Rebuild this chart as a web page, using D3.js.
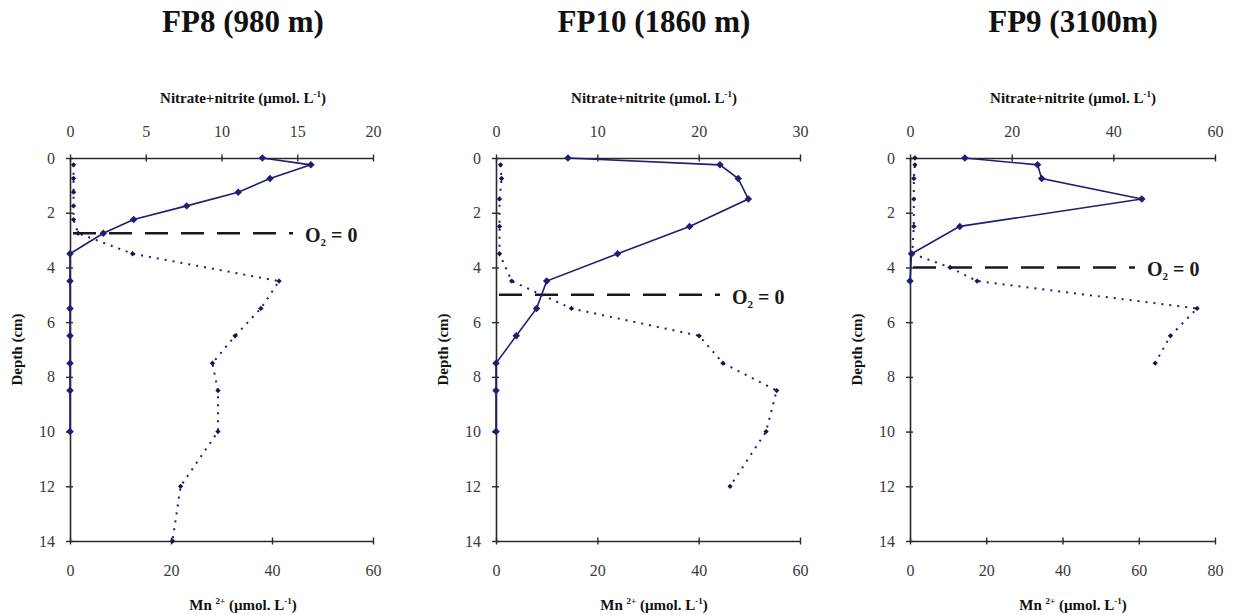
<!DOCTYPE html>
<html>
<head>
<meta charset="utf-8">
<script src="https://cdn.jsdelivr.net/npm/d3@7/dist/d3.min.js"></script>
<style>
  html, body { margin: 0; padding: 0; background: #fff; }
  svg { display: block; }
  svg text { font-family: "Liberation Serif", "Times New Roman", serif; }
</style>
</head>
<body>
<svg id="chart" width="1233" height="615"></svg>
<script>
// ---------- DATA ----------
const stations = ["FP8 (980 m)", "FP10 (1860 m)", "FP9 (3100m)"];

const fp8NitrateDepth = [0, 0.25, 0.75, 1.25, 1.75, 2.25, 2.75, 3.5, 4.5, 5.5, 6.5, 7.5, 8.5, 10];
const fp8Nitrate      = [12.7, 15.9, 13.2, 11.1, 7.7, 4.2, 2.2, 0, 0, 0, 0, 0, 0, 0];
const fp8MnDepth      = [0.25, 0.75, 1.25, 1.75, 2.25, 2.75, 3.5, 4.5, 5.5, 6.5, 7.5, 8.5, 10, 12, 14];
const fp8Mn           = [0.7, 0.7, 0.7, 0.7, 0.7, 1.6, 12.4, 41.4, 37.8, 32.7, 28.2, 29.3, 29.3, 21.9, 20.3];

const fp10NitrateDepth = [0, 0.25, 0.75, 1.5, 2.5, 3.5, 4.5, 5.5, 6.5, 7.5, 8.5, 10];
const fp10Nitrate      = [7.1, 22.1, 23.9, 24.9, 19.1, 12.0, 5.0, 4.0, 2.0, 0, 0, 0];
const fp10MnDepth      = [0.25, 0.75, 1.5, 2.5, 3.5, 4.5, 5.5, 6.5, 7.5, 8.5, 10, 12];
const fp10Mn           = [0.9, 1.1, 0.7, 0.7, 0.7, 3.1, 14.9, 40.1, 44.8, 55.4, 53.3, 46.2];

const fp9NitrateDepth = [0, 0.25, 0.75, 1.5, 2.5, 3.5, 4.5];
const fp9Nitrate      = [10.8, 25.1, 25.9, 45.6, 9.8, 0.3, 0];
const fp9MnDepth      = [0, 0.25, 0.75, 1.5, 2.5, 3.5, 4, 4.5, 5.5, 6.5, 7.5];
const fp9Mn           = [1.3, 1.3, 1.0, 1.0, 1.0, 0.6, 10.5, 17.6, 75.3, 68.3, 64.3];

const o2ZeroDepth = [2.75, 5.0, 4.0];

const nitrateMax   = [20, 30, 60];
const nitrateTicks = [[0, 5, 10, 15, 20], [0, 10, 20, 30], [0, 20, 40, 60]];
const mnMax        = [60, 60, 80];
const mnTicks      = [[0, 20, 40, 60], [0, 20, 40, 60], [0, 20, 40, 60, 80]];
const depthTicks   = [0, 2, 4, 6, 8, 10, 12, 14];

const nitrateDepths = [fp8NitrateDepth, fp10NitrateDepth, fp9NitrateDepth];
const nitrateVals   = [fp8Nitrate, fp10Nitrate, fp9Nitrate];
const mnDepths      = [fp8MnDepth, fp10MnDepth, fp9MnDepth];
const mnVals        = [fp8Mn, fp10Mn, fp9Mn];

// ---------- LAYOUT ----------
const panelLeft  = [70, 496, 910];
const panelRight = [373, 800, 1215];
const labelCx    = [243, 654, 1073];
const plotTop = 158, plotBottom = 541;

const navy = "#1e1e74";
const axisCol = "#2a2a2a";
const serif = "'Liberation Serif', 'Times New Roman', serif";

const svg = d3.select("#chart");
svg.append("rect").attr("width", 1233).attr("height", 615).attr("fill", "#fff");

const zip = (a, b) => a.map((d, i) => [d, b[i]]);

stations.forEach((name, i) => {
  const g = svg.append("g");
  const x1 = panelLeft[i], x2 = panelRight[i];
  const y = d3.scaleLinear().domain([0, 14]).range([plotTop, plotBottom]);
  const xN = d3.scaleLinear().domain([0, nitrateMax[i]]).range([x1, x2]);
  const xM = d3.scaleLinear().domain([0, mnMax[i]]).range([x1, x2]);

  // Station title
  g.append("text")
    .attr("x", labelCx[i]).attr("y", 32)
    .attr("text-anchor", "middle")
    .style("font-family", serif).attr("font-weight", "bold")
    .attr("font-size", 31).attr("fill", "#111")
    .text(name);

  // Top axis title
  const tt = g.append("text")
    .attr("x", labelCx[i]).attr("y", 103)
    .attr("text-anchor", "middle")
    .style("font-family", serif).attr("font-weight", "bold")
    .attr("font-size", 15).attr("fill", "#111");
  tt.append("tspan").text("Nitrate+nitrite (\u00B5mol. L");
  tt.append("tspan").attr("font-size", 9).attr("dy", -6).text("-1");
  tt.append("tspan").attr("dy", 6).text(")");

  // Bottom axis title
  const bt = g.append("text")
    .attr("x", labelCx[i]).attr("y", 610)
    .attr("text-anchor", "middle")
    .style("font-family", serif).attr("font-weight", "bold")
    .attr("font-size", 15).attr("fill", "#111");
  bt.append("tspan").text("Mn ");
  bt.append("tspan").attr("font-size", 9).attr("dy", -6).text("2+");
  bt.append("tspan").attr("dy", 6).text(" (\u00B5mol. L");
  bt.append("tspan").attr("font-size", 9).attr("dy", -6).text("-1");
  bt.append("tspan").attr("dy", 6).text(")");

  // Depth label
  g.append("text")
    .attr("transform", `translate(${x1 - 48},${(plotTop + plotBottom) / 2}) rotate(-90)`)
    .attr("text-anchor", "middle")
    .style("font-family", serif).attr("font-weight", "bold")
    .attr("font-size", 15).attr("fill", "#111")
    .text("Depth (cm)");

  // Axes
  const styleAxis = (sel, orient) => {
    sel.attr("font-family", null);
    sel.select(".domain").attr("stroke", axisCol).attr("stroke-width", 1.6);
    sel.selectAll(".tick line").attr("stroke", axisCol).attr("stroke-width", 1.4);
    if (orient === "x") sel.selectAll(".tick line").attr("y1", -3.5).attr("y2", 3.5);
    else sel.selectAll(".tick line").attr("x1", -4).attr("x2", 3);
    sel.selectAll(".tick text")
      .style("font-family", serif).attr("font-size", 16).attr("fill", "#3a3a3a");
  };

  const topAx = g.append("g").attr("transform", `translate(0,${plotTop})`)
    .call(d3.axisTop(xN).tickValues(nitrateTicks[i]).tickSize(3.5).tickSizeOuter(0).tickPadding(18));
  styleAxis(topAx, "x");

  const botAx = g.append("g").attr("transform", `translate(0,${plotBottom})`)
    .call(d3.axisBottom(xM).tickValues(mnTicks[i]).tickSize(3.5).tickSizeOuter(0).tickPadding(20));
  styleAxis(botAx, "x");
  botAx.selectAll(".tick text").attr("dy", "0.71em");

  const leftAx = g.append("g").attr("transform", `translate(${x1},0)`)
    .call(d3.axisLeft(y).tickValues(depthTicks).tickSize(4).tickSizeOuter(0).tickPadding(11));
  styleAxis(leftAx, "y");

  // O2 = 0 line
  const oy = y(o2ZeroDepth[i]);
  const labX = x2 - 68;
  g.append("line")
    .attr("x1", x1 + 3).attr("x2", labX - 12)
    .attr("y1", oy).attr("y2", oy)
    .attr("stroke", "#1a1a1a").attr("stroke-width", 2.6)
    .attr("stroke-dasharray", "23,13");
  const ot = g.append("text")
    .attr("x", labX).attr("y", oy + 9)
    .style("font-family", serif).attr("font-weight", "bold")
    .attr("font-size", 20).attr("fill", "#1a1a1a");
  ot.append("tspan").text("O");
  ot.append("tspan").attr("font-size", 11).attr("dy", 4).text("2");
  ot.append("tspan").attr("dy", -4).text(" = 0");

  // Mn profile (dotted)
  const mnData = zip(mnDepths[i], mnVals[i]);
  g.append("path")
    .datum(mnData)
    .attr("fill", "none").attr("stroke", navy).attr("stroke-width", 2)
    .attr("stroke-dasharray", "2,6")
    .attr("d", d3.line().x(d => xM(d[1])).y(d => y(d[0])));
  g.selectAll(".mn").data(mnData).enter().append("path")
    .attr("transform", d => `translate(${xM(d[1])},${y(d[0])}) rotate(45)`)
    .attr("d", d3.symbol().type(d3.symbolSquare).size(14))
    .attr("fill", "#15154f");

  // Nitrate profile (solid)
  const nData = zip(nitrateDepths[i], nitrateVals[i]);
  g.append("path")
    .datum(nData)
    .attr("fill", "none").attr("stroke", navy).attr("stroke-width", 1.6)
    .attr("d", d3.line().x(d => xN(d[1])).y(d => y(d[0])));
  g.selectAll(".no3").data(nData).enter().append("path")
    .attr("transform", d => `translate(${xN(d[1])},${y(d[0])}) rotate(45)`)
    .attr("d", d3.symbol().type(d3.symbolSquare).size(28))
    .attr("fill", navy);
});
</script>
</body>
</html>
